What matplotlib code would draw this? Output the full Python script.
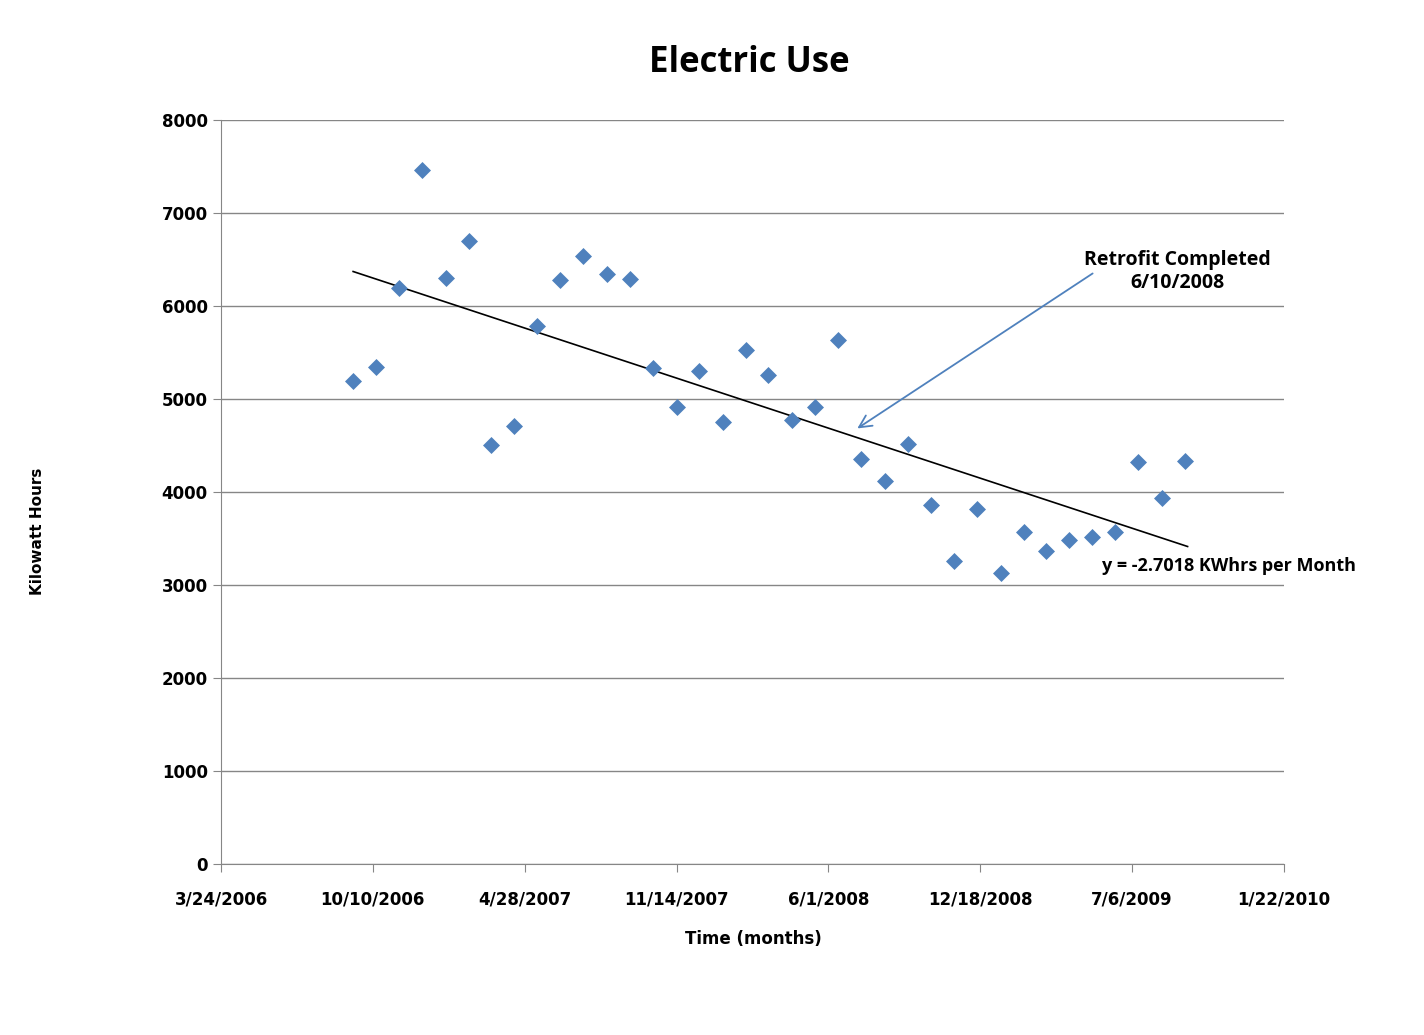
import numpy as np
import pandas as pd
import matplotlib
matplotlib.use("Agg")
import matplotlib.pyplot as plt
import matplotlib.dates as mdates

# monthly readings, Sep 2006 - Sep 2009
dates = pd.date_range("2006-09-01", periods=37, freq="MS") + pd.Timedelta(days=13)
kwh = [5194, 5344, 6194, 7462, 6301, 6699, 4505, 4710, 5785, 6280,
       6538, 6344, 6290, 5333, 4914, 5301, 4753, 5527, 5258, 4774,
       4914, 5634, 4355, 4118, 4516, 3860, 3258, 3817, 3129, 3570,
       3366, 3484, 3516, 3570, 4323, 3935, 4333]

x_start = pd.Timestamp("2006-03-24")
x_ticks = [x_start + pd.Timedelta(days=200 * i) for i in range(8)]
tick_labels = [f"{d.month}/{d.day}/{d.year}" for d in x_ticks]
y_ticks = list(range(0, 8001, 1000))

fig = plt.figure(figsize=(14.24, 10.35), dpi=100)
ax = fig.add_axes([0.1552, 0.1652, 0.7465, 0.7189])

xn = mdates.date2num(dates)
ax.scatter(xn, kwh, marker="D", s=75, color="#4F81BD", zorder=3, linewidths=0)

# linear trend line
k, b = np.polyfit(xn, kwh, 1)
xt = np.array([xn[0], xn[-1] + 3])
ax.plot(xt, k * xt + b, color="black", lw=1.2, zorder=2)

tnum = mdates.date2num(x_ticks)
ax.set_xlim(tnum[0], tnum[-1])
ax.set_ylim(0, 8000)
ax.set_xticks(tnum)
ax.set_xticklabels(tick_labels)
ax.set_yticks(y_ticks)
ax.yaxis.grid(True, color="#868686", lw=1)
ax.set_axisbelow(True)
for s in ["top", "right"]:
    ax.spines[s].set_visible(False)
for s in ["left", "bottom"]:
    ax.spines[s].set_color("#868686")
ax.tick_params(axis="both", direction="out", length=6, color="#868686",
               labelsize=12)
ax.tick_params(axis="x", pad=13)
for lab in ax.get_xticklabels() + ax.get_yticklabels():
    lab.set_fontweight("bold")
    lab.set_family("DejaVu Sans")

fig.text(0.526, 0.939, "Electric Use", ha="center", va="center",
         fontsize=25, fontweight="bold", family="Open Sans")
fig.text(0.529, 0.093, "Time (months)", ha="center", va="center",
         fontsize=12, fontweight="bold", family="DejaVu Sans")
fig.text(0.026, 0.487, "Kilowatt Hours", ha="center", va="center",
         rotation=90, fontsize=11, fontweight="bold", family="DejaVu Sans")

# annotations
retro = mdates.date2num(pd.Timestamp("2008-06-10"))
ax.annotate("", xy=(retro + 26, 4667), xytext=(retro + 342, 6366),
            arrowprops=dict(arrowstyle="->", color="#4F81BD", lw=1.3,
                            mutation_scale=22))
ax.text(retro + 450, 6370, "Retrofit Completed\n6/10/2008", ha="center",
        va="center", fontsize=14, fontweight="bold", family="Open Sans",
        linespacing=1.25)
ax.text(xn[-1] - 110, 3204, "y = -2.7018 KWhrs per Month", ha="left",
        va="center", fontsize=13, fontweight="bold", family="Open Sans")

fig.savefig("out.png", dpi=100, facecolor="white")
